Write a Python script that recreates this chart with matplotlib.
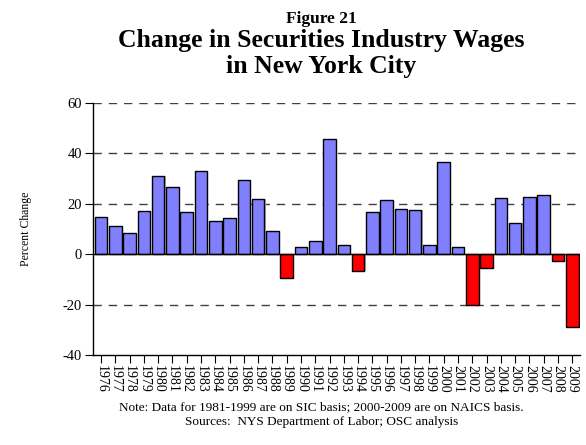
import matplotlib.pyplot as plt

years = [str(y) for y in range(1976, 2010)]
change = [14.8, 11.2, 8.4, 17.3, 30.8, 26.8, 16.9, 32.9, 13.2, 14.4,
          29.5, 21.7, 9.2, -9.6, 2.9, 5.2, 45.7, 3.5, -6.8, 16.7,
          21.6, 17.8, 17.4, 3.5, 36.5, 3.0, -20.2, -5.4, 22.1, 12.2,
          22.8, 23.5, -2.6, -28.7]

plt.rcParams['font.family'] = ['Liberation Serif', 'DejaVu Serif']
plt.rcParams['axes.unicode_minus'] = False

fig = plt.figure(figsize=(5.86, 4.45), dpi=100)
ax = fig.add_axes([0.159, 0.202, 0.831, 0.567])

x = list(range(len(years)))
colors = ['#8080FF' if v >= 0 else '#FF0000' for v in change]
# soft shadow behind bars
ax.bar([i + 0.08 for i in x], change, width=0.88, color='#b0b0b0', zorder=1,
       linewidth=0)
ax.bar(x, change, width=0.88, color=colors, edgecolor='black', linewidth=1.0,
       zorder=2)

for yv in [-20, 20, 40, 60]:
    ax.axhline(yv, color='#404040', linestyle=(0, (6, 5)), linewidth=1.0, zorder=0)
ax.axhline(0, color='black', linewidth=1.0, zorder=3)

ax.set_ylim(-40, 60)
ax.set_xlim(-0.55, len(years) - 0.45)
ax.set_yticks([-40, -20, 0, 20, 40, 60])
ax.set_xticks(x)
ax.set_xticklabels(years, rotation=-90, fontsize=10)
ax.tick_params(axis='y', direction='out', length=6, labelsize=10.5, pad=2)
ax.tick_params(axis='x', direction='out', length=6, pad=1)
for s in ['top', 'right']:
    ax.spines[s].set_visible(False)
ax.spines['left'].set_linewidth(1.0)
ax.spines['bottom'].set_linewidth(1.0)
ax.set_ylabel('Percent Change', fontsize=8.5, labelpad=22)

fig.text(0.548, 0.958, 'Figure 21', ha='center', va='center', fontsize=12.5,
         fontweight='bold')
fig.text(0.548, 0.908, 'Change in Securities Industry Wages', ha='center',
         va='center', fontsize=18.5, fontweight='bold')
fig.text(0.548, 0.850, 'in New York City', ha='center', va='center',
         fontsize=18.5, fontweight='bold')

fig.text(0.548, 0.085, 'Note: Data for 1981-1999 are on SIC basis; 2000-2009 are on NAICS basis.',
         ha='center', va='center', fontsize=9.5)
fig.text(0.548, 0.052, 'Sources:  NYS Department of Labor; OSC analysis',
         ha='center', va='center', fontsize=9.5)

fig.savefig('out.png', dpi=100)
